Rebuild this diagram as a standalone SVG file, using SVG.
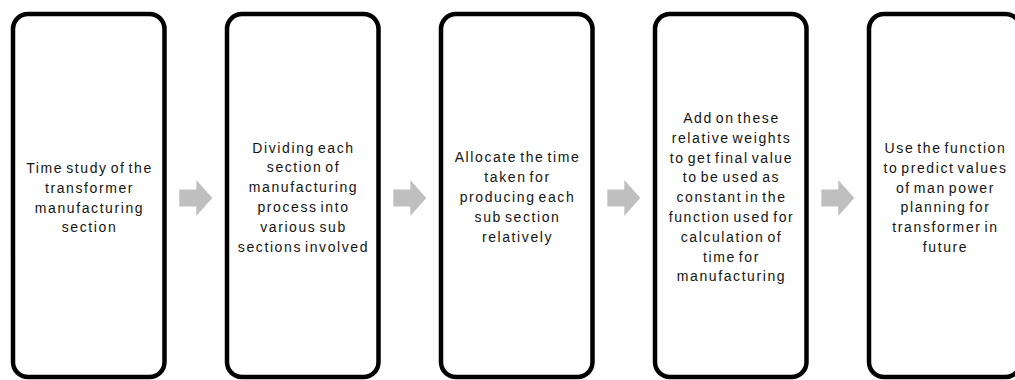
<svg xmlns="http://www.w3.org/2000/svg" width="1015" height="380" viewBox="0 0 1015 380">
<style>
.box{fill:#ffffff;stroke:#000000;stroke-width:4.5}
.arr{fill:#bfbfbf}
text{font-family:"Liberation Sans",Arial,sans-serif;font-size:14px;fill:#141414;text-anchor:middle;letter-spacing:1.6px;word-spacing:-2.5px}
</style>
<defs>
<path id="arrow" d="M-16.5,-8.5 H0.5 V-18 L16.5,0 L0.5,18 V8.5 H-16.5 Z"/>
</defs>
<rect x="0" y="0" width="1015" height="380" fill="#ffffff"/>
<g id="connectors">
<use href="#arrow" class="arr" transform="translate(195.8,198)"/>
<use href="#arrow" class="arr" transform="translate(409.8,198)"/>
<use href="#arrow" class="arr" transform="translate(623.8,198)"/>
<use href="#arrow" class="arr" transform="translate(837.8,198)"/>
</g>
<g id="node1">
<rect class="box" x="13" y="14" width="151.5" height="363" rx="15"/>
<text x="89.5" y="173">Time study of the</text>
<text x="89.5" y="192.8">transformer</text>
<text x="89.5" y="212.6">manufacturing</text>
<text x="89.5" y="232.4">section</text>
</g>
<g id="node2">
<rect class="box" x="227" y="14" width="151.5" height="363" rx="15"/>
<text x="303.5" y="152.5">Dividing each</text>
<text x="303.5" y="172.3">section of</text>
<text x="303.5" y="192.1">manufacturing</text>
<text x="303.5" y="211.9">process into</text>
<text x="303.5" y="231.7">various sub</text>
<text x="303.5" y="251.5">sections involved</text>
</g>
<g id="node3">
<rect class="box" x="441" y="14" width="151.5" height="363" rx="15"/>
<text x="517.5" y="162.4">Allocate the time</text>
<text x="517.5" y="182.2">taken for</text>
<text x="517.5" y="202">producing each</text>
<text x="517.5" y="221.8">sub section</text>
<text x="517.5" y="241.6">relatively</text>
</g>
<g id="node4">
<rect class="box" x="655" y="14" width="151.5" height="363" rx="15"/>
<text x="731.5" y="123">Add on these</text>
<text x="731.5" y="142.8">relative weights</text>
<text x="731.5" y="162.6">to get final value</text>
<text x="731.5" y="182.4">to be used as</text>
<text x="731.5" y="202.2">constant in the</text>
<text x="731.5" y="222">function used for</text>
<text x="731.5" y="241.8">calculation of</text>
<text x="731.5" y="261.6">time for</text>
<text x="731.5" y="281.4">manufacturing</text>
</g>
<g id="node5">
<rect class="box" x="869" y="14" width="151.5" height="363" rx="15"/>
<text x="945.5" y="153">Use the function</text>
<text x="945.5" y="172.8">to predict values</text>
<text x="945.5" y="192.6">of man power</text>
<text x="945.5" y="212.4">planning for</text>
<text x="945.5" y="232.2">transformer in</text>
<text x="945.5" y="252">future</text>
</g>
</svg>
